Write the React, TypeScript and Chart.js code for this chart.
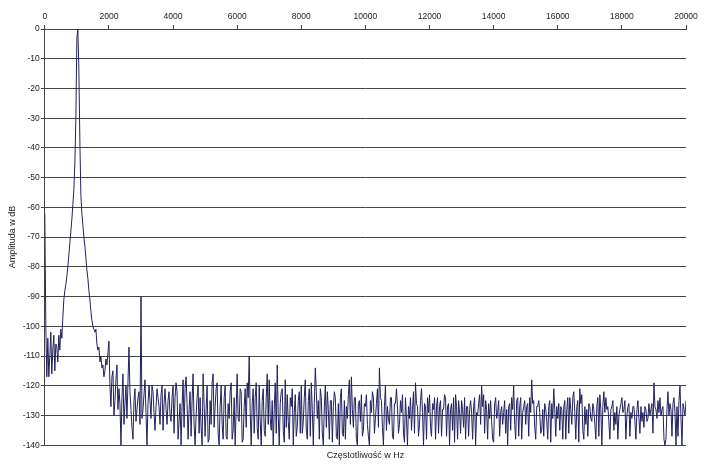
import React, { useEffect, useRef } from "react";
import { Chart, registerables } from "chart.js";

Chart.register(...registerables);

// Frequency resolution of the spectrum (Hz between successive values)
const binHz = 31.25;

// Amplitude (dB) values, in successive frequency bins
const amp0to4k = [
  -62, -100, -117, -104, -117, -110, -102, -116, -108, -103, -115, -106, -107, -112, -103, -108,
  -101, -104, -97, -91, -88, -86, -83, -80, -76, -72, -68, -64, -59, -54, -45, -30,
  -3, 0, -14, -38, -56, -62, -66, -70, -73, -77, -81, -84, -88, -91, -95, -98,
  -100, -101, -102, -101, -106, -108, -107, -112, -110, -114, -113, -117, -115, -111, -113, -109,
  -105, -120, -127, -117, -115, -130, -125, -118, -113, -128, -121, -126, -140, -124, -116, -133,
  -126, -120, -131, -119, -107, -122, -128, -134, -138, -125, -121, -132, -128, -124, -122, -133,
  -90, -131, -128, -123, -118, -129, -140, -126, -120, -125, -131, -120, -122, -129, -135, -127,
  -121, -124, -127, -133, -123, -120, -135, -126, -121, -128, -133, -125, -122, -130, -132, -124,
];

const amp4kTo8k = [
  -120, -136, -124, -119, -122, -138, -132, -126, -140, -127, -118, -134, -121, -117, -126, -138,
  -128, -122, -137, -125, -116, -133, -140, -130, -124, -120, -136, -124, -134, -140, -116, -126,
  -137, -128, -120, -139, -138, -125, -133, -119, -116, -134, -127, -121, -119, -136, -140, -127,
  -120, -133, -138, -124, -120, -137, -138, -126, -131, -122, -119, -138, -135, -124, -140, -128,
  -116, -131, -132, -121, -122, -139, -138, -127, -121, -134, -119, -124, -110, -129, -140, -126,
  -121, -136, -124, -119, -134, -138, -120, -132, -140, -125, -121, -135, -137, -124, -116, -133,
  -118, -131, -135, -125, -140, -128, -119, -136, -113, -130, -140, -126, -122, -121, -135, -139,
  -118, -134, -123, -132, -138, -124, -127, -121, -140, -129, -123, -137, -134, -125, -122, -136,
];

const amp8kTo12k = [
  -120, -136, -132, -124, -118, -135, -138, -125, -121, -137, -119, -128, -140, -126, -114, -122,
  -131, -125, -138, -121, -124, -136, -140, -127, -120, -134, -122, -128, -138, -125, -125, -139,
  -127, -122, -124, -137, -138, -126, -140, -124, -121, -136, -137, -125, -138, -127, -131, -123,
  -118, -133, -117, -128, -134, -124, -124, -138, -140, -126, -125, -132, -123, -137, -135, -126,
  -127, -123, -133, -137, -140, -125, -129, -122, -124, -136, -131, -126, -121, -134, -114, -124,
  -125, -134, -140, -127, -120, -135, -127, -131, -133, -124, -124, -137, -138, -126, -126, -121,
  -127, -136, -133, -125, -129, -123, -136, -139, -124, -131, -140, -127, -131, -124, -135, -128,
  -122, -136, -119, -126, -127, -137, -133, -125, -121, -129, -140, -126, -127, -138, -124, -129,
];

const amp12kTo16k = [
  -123, -134, -137, -126, -128, -124, -138, -127, -124, -136, -127, -125, -137, -128, -128, -123,
  -124, -137, -127, -126, -140, -128, -126, -135, -124, -139, -123, -127, -138, -125, -129, -136,
  -125, -128, -134, -124, -138, -127, -127, -137, -128, -125, -129, -138, -127, -124, -140, -129,
  -130, -126, -123, -133, -120, -127, -123, -136, -125, -128, -138, -126, -131, -125, -132, -138,
  -139, -126, -124, -131, -129, -125, -137, -129, -127, -133, -129, -125, -136, -128, -140, -127,
  -126, -135, -124, -128, -120, -133, -138, -125, -124, -137, -127, -124, -138, -129, -127, -125,
  -133, -127, -126, -137, -124, -129, -118, -126, -125, -134, -138, -127, -127, -125, -129, -136,
  -135, -128, -137, -126, -128, -132, -138, -127, -125, -139, -126, -131, -121, -128, -137, -127,
];

const amp16kTo20k = [
  -131, -126, -135, -127, -128, -138, -127, -125, -138, -128, -124, -136, -124, -128, -133, -124,
  -122, -129, -138, -127, -125, -139, -121, -126, -123, -135, -138, -127, -133, -128, -137, -126,
  -127, -131, -132, -126, -128, -133, -138, -127, -124, -137, -123, -128, -140, -127, -122, -129,
  -124, -128, -127, -132, -138, -128, -127, -125, -135, -129, -133, -127, -138, -130, -128, -126,
  -124, -129, -128, -125, -138, -130, -127, -126, -137, -129, -131, -127, -127, -132, -138, -128,
  -125, -131, -136, -127, -132, -129, -134, -127, -128, -132, -131, -126, -130, -128, -126, -136,
  -119, -127, -128, -131, -125, -129, -124, -130, -128, -127, -138, -140, -138, -128, -122, -130,
  -126, -128, -137, -126, -124, -129, -140, -127, -137, -125, -120, -131, -140, -126, -128, -130,
  -125,
];

// Axis ranges / ticks
const xMin = 0;
const xMax = 20000;
const xStep = 2000;
const yMin = -140;
const yMax = 0;
const yStep = 10;

const xTitle = "Częstotliwość w Hz";
const yTitle = "Amplituda w dB";

export default function App() {
  const ref = useRef<HTMLCanvasElement>(null);

  useEffect(() => {
    if (!ref.current) return;
    const amps = [...amp0to4k, ...amp4kTo8k, ...amp8kTo12k, ...amp12kTo16k, ...amp16kTo20k];
    const points = amps.map((v, i) => ({ x: i * binHz, y: v }));
    const family = "'Liberation Sans', Arial, Helvetica, sans-serif";
    const tickFont = { family, size: 8.5 };
    const titleFont = { family, size: 9 };
    const textColor = "#222";
    const lineColor = "#444";

    const chart = new Chart(ref.current, {
      type: "line",
      data: {
        datasets: [
          {
            data: points,
            borderColor: "#22225f",
            backgroundColor: "#22225f",
            borderWidth: 1,
            pointRadius: 0,
            tension: 0,
            fill: false,
          },
        ],
      },
      options: {
        animation: false,
        responsive: false,
        layout: { padding: { left: 3, right: 19, top: 8.8, bottom: 0 } },
        plugins: {
          legend: { display: false },
          tooltip: { enabled: false },
          title: { display: false },
        },
        scales: {
          x: {
            type: "linear",
            position: "top",
            min: xMin,
            max: xMax,
            ticks: {
              stepSize: xStep,
              font: tickFont,
              color: textColor,
              padding: 3,
              maxRotation: 0,
              autoSkip: false,
              callback: (v: any) => String(v),
            },
            grid: { drawOnChartArea: false, drawTicks: true, tickLength: 4, color: lineColor },
            border: { display: true, color: lineColor },
          },
          xb: {
            type: "linear",
            position: "bottom",
            min: xMin,
            max: xMax,
            ticks: { display: false },
            grid: { display: false, drawTicks: false },
            border: { display: false },
            title: {
              display: true,
              text: xTitle,
              font: titleFont,
              color: textColor,
              padding: { top: 5, bottom: 6 },
            },
          },
          y: {
            type: "linear",
            min: yMin,
            max: yMax,
            ticks: {
              stepSize: yStep,
              font: tickFont,
              color: textColor,
              padding: 1,
              callback: (v: any) => String(v),
            },
            grid: { color: lineColor, tickLength: 4, drawTicks: true },
            border: { display: true, color: lineColor },
            title: {
              display: true,
              text: yTitle,
              font: titleFont,
              color: textColor,
              padding: { top: 4, bottom: 4 },
            },
          },
        },
      },
    } as any);

    return () => chart.destroy();
  }, []);

  return (
    <div style={{ position: "absolute", left: 0, top: 0, width: 705, height: 467, background: "#fff" }}>
      <canvas ref={ref} width={705} height={467} style={{ display: "block" }} />
    </div>
  );
}
